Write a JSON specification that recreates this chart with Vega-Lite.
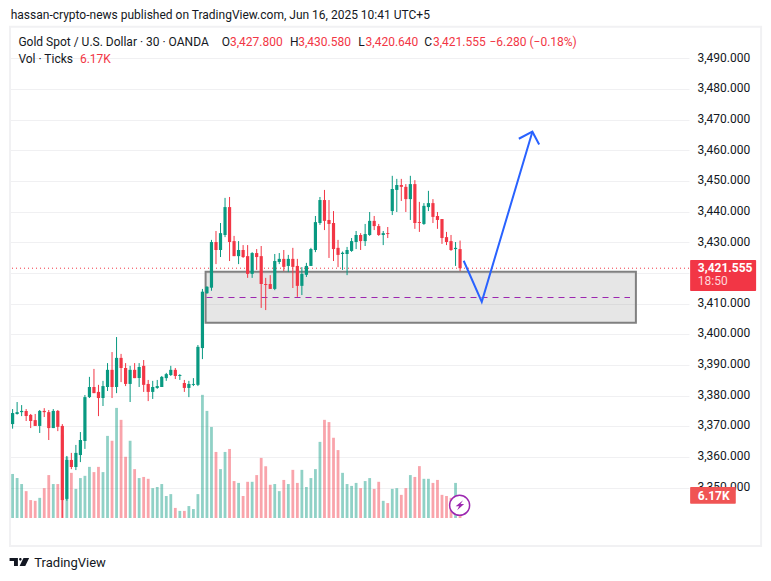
{
  "$schema": "https://vega.github.io/schema/vega-lite/v6.json",
  "width": 679,
  "height": 490,
  "autosize": {"type": "none"},
  "padding": {"left": 10, "top": 28, "right": 82, "bottom": 63},
  "background": "#ffffff",
  "config": {"view": {"stroke": null}, "text": {"font": "Roboto"}},
  "datasets": {
    "bars": [
      {"i":0,"o":3370.7,"h":3375.6,"l":3369.2,"c":3374.3,"v":11.8},
      {"i":1,"o":3374.0,"h":3377.9,"l":3373.8,"c":3374.6,"v":10.7},
      {"i":2,"o":3374.6,"h":3376.9,"l":3373.3,"c":3375.0,"v":9.1},
      {"i":3,"o":3375.0,"h":3375.6,"l":3371.7,"c":3373.3,"v":7.2},
      {"i":4,"o":3373.7,"h":3374.0,"l":3369.4,"c":3371.7,"v":4.8},
      {"i":5,"o":3372.0,"h":3374.0,"l":3370.1,"c":3370.1,"v":4.6},
      {"i":6,"o":3370.1,"h":3375.3,"l":3367.8,"c":3375.0,"v":5.4},
      {"i":7,"o":3375.0,"h":3375.9,"l":3373.0,"c":3374.6,"v":8.0},
      {"i":8,"o":3374.6,"h":3375.3,"l":3365.5,"c":3369.4,"v":11.5},
      {"i":9,"o":3369.4,"h":3375.6,"l":3369.4,"c":3375.0,"v":9.1},
      {"i":10,"o":3375.0,"h":3375.3,"l":3368.4,"c":3369.8,"v":9.1},
      {"i":11,"o":3370.1,"h":3370.7,"l":3340.1,"c":3345.9,"v":22.3},
      {"i":12,"o":3346.3,"h":3360.3,"l":3345.7,"c":3359.0,"v":16.4},
      {"i":13,"o":3359.0,"h":3361.3,"l":3356.0,"c":3356.7,"v":12.1},
      {"i":14,"o":3356.7,"h":3363.9,"l":3355.7,"c":3361.3,"v":7.8},
      {"i":15,"o":3360.6,"h":3368.1,"l":3358.3,"c":3365.5,"v":10.7},
      {"i":16,"o":3365.2,"h":3380.2,"l":3362.6,"c":3379.5,"v":11.3},
      {"i":17,"o":3379.5,"h":3386.1,"l":3379.2,"c":3382.8,"v":13.7},
      {"i":18,"o":3382.8,"h":3388.7,"l":3380.8,"c":3380.8,"v":12.3},
      {"i":19,"o":3381.2,"h":3383.5,"l":3373.3,"c":3379.2,"v":13.7},
      {"i":20,"o":3379.2,"h":3384.8,"l":3376.6,"c":3383.1,"v":12.3},
      {"i":21,"o":3382.8,"h":3390.6,"l":3381.5,"c":3388.4,"v":22.0},
      {"i":22,"o":3388.4,"h":3394.2,"l":3379.2,"c":3382.8,"v":20.7},
      {"i":23,"o":3382.8,"h":3399.1,"l":3380.8,"c":3392.3,"v":29.5},
      {"i":24,"o":3392.3,"h":3393.6,"l":3384.4,"c":3389.0,"v":26.3},
      {"i":25,"o":3389.0,"h":3390.6,"l":3383.1,"c":3383.8,"v":16.4},
      {"i":26,"o":3383.8,"h":3389.7,"l":3377.9,"c":3388.4,"v":20.7},
      {"i":27,"o":3388.4,"h":3390.6,"l":3385.7,"c":3385.7,"v":13.1},
      {"i":28,"o":3385.7,"h":3390.6,"l":3382.8,"c":3389.3,"v":10.7},
      {"i":29,"o":3389.7,"h":3391.6,"l":3381.2,"c":3383.5,"v":11.0},
      {"i":30,"o":3383.8,"h":3385.1,"l":3378.2,"c":3381.2,"v":10.5},
      {"i":31,"o":3381.2,"h":3384.8,"l":3378.9,"c":3382.8,"v":8.0},
      {"i":32,"o":3382.5,"h":3385.1,"l":3382.2,"c":3383.1,"v":8.3},
      {"i":33,"o":3382.8,"h":3386.4,"l":3382.8,"c":3386.1,"v":9.1},
      {"i":34,"o":3385.7,"h":3387.4,"l":3384.8,"c":3387.0,"v":5.9},
      {"i":35,"o":3386.7,"h":3389.7,"l":3386.4,"c":3388.4,"v":6.4},
      {"i":36,"o":3388.4,"h":3389.0,"l":3385.4,"c":3386.4,"v":2.7},
      {"i":37,"o":3386.4,"h":3387.0,"l":3385.1,"c":3386.7,"v":1.9},
      {"i":38,"o":3384.1,"h":3385.1,"l":3381.2,"c":3382.5,"v":1.9},
      {"i":39,"o":3382.5,"h":3384.8,"l":3379.5,"c":3383.8,"v":3.2},
      {"i":40,"o":3383.5,"h":3385.7,"l":3383.1,"c":3383.8,"v":2.4},
      {"i":41,"o":3383.5,"h":3396.5,"l":3383.1,"c":3395.9,"v":6.4},
      {"i":42,"o":3395.5,"h":3414.8,"l":3391.9,"c":3413.9,"v":33.0},
      {"i":43,"o":3413.4,"h":3415.7,"l":3413.2,"c":3415.5,"v":28.7},
      {"i":44,"o":3415.2,"h":3430.8,"l":3414.2,"c":3430.1,"v":24.4},
      {"i":45,"o":3430.1,"h":3433.7,"l":3422.9,"c":3427.5,"v":17.7},
      {"i":46,"o":3427.5,"h":3436.3,"l":3425.2,"c":3433.0,"v":13.1},
      {"i":47,"o":3432.4,"h":3444.5,"l":3431.7,"c":3441.5,"v":17.7},
      {"i":48,"o":3441.5,"h":3444.8,"l":3423.9,"c":3430.1,"v":18.5},
      {"i":49,"o":3430.4,"h":3432.1,"l":3425.5,"c":3425.5,"v":9.9},
      {"i":50,"o":3425.5,"h":3430.4,"l":3422.9,"c":3427.5,"v":9.4},
      {"i":51,"o":3427.5,"h":3429.1,"l":3424.9,"c":3425.2,"v":5.9},
      {"i":52,"o":3425.5,"h":3429.1,"l":3418.4,"c":3419.7,"v":9.7},
      {"i":53,"o":3419.7,"h":3426.8,"l":3418.4,"c":3426.5,"v":9.7},
      {"i":54,"o":3426.5,"h":3427.8,"l":3421.0,"c":3425.2,"v":11.5},
      {"i":55,"o":3425.5,"h":3428.8,"l":3408.6,"c":3416.4,"v":16.1},
      {"i":56,"o":3416.4,"h":3418.4,"l":3407.9,"c":3416.1,"v":13.9},
      {"i":57,"o":3416.4,"h":3419.3,"l":3414.8,"c":3414.8,"v":8.9},
      {"i":58,"o":3414.8,"h":3426.2,"l":3414.4,"c":3423.9,"v":9.1},
      {"i":59,"o":3423.6,"h":3426.5,"l":3422.9,"c":3424.6,"v":7.2},
      {"i":60,"o":3424.6,"h":3427.5,"l":3420.6,"c":3422.0,"v":10.2},
      {"i":61,"o":3422.3,"h":3425.9,"l":3420.3,"c":3424.6,"v":9.1},
      {"i":62,"o":3424.6,"h":3428.2,"l":3415.1,"c":3422.0,"v":12.9},
      {"i":63,"o":3422.3,"h":3424.6,"l":3412.2,"c":3415.8,"v":9.4},
      {"i":64,"o":3415.8,"h":3421.9,"l":3412.8,"c":3419.7,"v":12.9},
      {"i":65,"o":3419.4,"h":3423.3,"l":3418.7,"c":3422.3,"v":8.3},
      {"i":66,"o":3422.3,"h":3428.2,"l":3422.3,"c":3427.8,"v":10.7},
      {"i":67,"o":3427.5,"h":3438.6,"l":3426.8,"c":3436.6,"v":13.1},
      {"i":68,"o":3436.3,"h":3444.8,"l":3435.7,"c":3443.8,"v":20.4},
      {"i":69,"o":3443.8,"h":3447.1,"l":3434.0,"c":3437.0,"v":26.3},
      {"i":70,"o":3437.3,"h":3443.8,"l":3424.9,"c":3436.0,"v":25.7},
      {"i":71,"o":3436.3,"h":3440.2,"l":3423.9,"c":3427.8,"v":21.5},
      {"i":72,"o":3428.2,"h":3430.8,"l":3421.9,"c":3425.9,"v":18.2},
      {"i":73,"o":3426.2,"h":3427.0,"l":3421.0,"c":3426.6,"v":12.1},
      {"i":74,"o":3426.2,"h":3428.5,"l":3419.3,"c":3427.5,"v":9.1},
      {"i":75,"o":3427.2,"h":3431.4,"l":3426.9,"c":3430.4,"v":8.6},
      {"i":76,"o":3430.1,"h":3433.7,"l":3427.8,"c":3432.4,"v":9.4},
      {"i":77,"o":3432.4,"h":3433.0,"l":3427.5,"c":3430.4,"v":8.0},
      {"i":78,"o":3430.4,"h":3436.0,"l":3428.8,"c":3432.7,"v":9.9},
      {"i":79,"o":3432.4,"h":3439.9,"l":3432.1,"c":3437.0,"v":10.7},
      {"i":80,"o":3437.0,"h":3438.6,"l":3434.0,"c":3435.3,"v":7.8},
      {"i":81,"o":3435.3,"h":3436.0,"l":3432.1,"c":3432.4,"v":9.7},
      {"i":82,"o":3432.4,"h":3433.7,"l":3429.1,"c":3433.0,"v":4.6},
      {"i":83,"o":3433.0,"h":3435.0,"l":3431.4,"c":3432.7,"v":4.0},
      {"i":84,"o":3440.2,"h":3451.7,"l":3438.9,"c":3447.4,"v":7.8},
      {"i":85,"o":3447.1,"h":3450.7,"l":3439.9,"c":3448.7,"v":8.0},
      {"i":86,"o":3448.7,"h":3450.7,"l":3443.5,"c":3448.1,"v":6.2},
      {"i":87,"o":3448.1,"h":3449.0,"l":3439.9,"c":3444.1,"v":8.0},
      {"i":88,"o":3444.1,"h":3451.7,"l":3437.3,"c":3449.0,"v":11.5},
      {"i":89,"o":3449.0,"h":3450.3,"l":3434.4,"c":3436.3,"v":11.0},
      {"i":90,"o":3436.6,"h":3443.2,"l":3433.4,"c":3436.3,"v":13.9},
      {"i":91,"o":3436.0,"h":3442.8,"l":3435.7,"c":3441.9,"v":10.5},
      {"i":92,"o":3441.5,"h":3446.8,"l":3440.2,"c":3442.8,"v":10.5},
      {"i":93,"o":3442.8,"h":3444.1,"l":3436.3,"c":3438.3,"v":9.4},
      {"i":94,"o":3438.6,"h":3439.9,"l":3434.4,"c":3437.3,"v":10.2},
      {"i":95,"o":3437.6,"h":3437.6,"l":3429.5,"c":3431.4,"v":6.2},
      {"i":96,"o":3431.7,"h":3433.4,"l":3429.1,"c":3430.1,"v":5.9},
      {"i":97,"o":3430.4,"h":3432.4,"l":3427.2,"c":3427.5,"v":5.4},
      {"i":98,"o":3427.8,"h":3430.1,"l":3422.3,"c":3428.2,"v":9.4},
      {"i":99,"o":3427.8,"h":3430.58,"l":3420.64,"c":3421.555,"v":6.17}
    ],
    "arrow": [
      {"seg":"a","n":0,"i":99.8,"p":3424.0},
      {"seg":"a","n":1,"i":103.8,"p":3410.6},
      {"seg":"a","n":2,"i":115.0,"p":3466.1},
      {"seg":"b","n":0,"i":112.0,"p":3463.8},
      {"seg":"b","n":1,"i":115.0,"p":3466.1},
      {"seg":"b","n":2,"i":116.5,"p":3461.9}
    ],
    "darkText": [
      {"t":"hassan-crypto-news published on TradingView.com, Jun 16, 2025 10:41 UTC+5","i":-0.42,"p":3504.2},
      {"t":"Gold Spot / U.S. Dollar · 30 · OANDA","i":1.28,"p":3495.5},
      {"t":"O","i":46.3,"p":3495.5},
      {"t":"H","i":61.4,"p":3495.5},
      {"t":"L","i":76.5,"p":3495.5},
      {"t":"C","i":91.1,"p":3495.5},
      {"t":"Vol · Ticks","i":1.28,"p":3489.8}
    ],
    "redText": [
      {"t":"3,427.800","i":48.1,"p":3495.5},
      {"t":"3,430.580","i":63.2,"p":3495.5},
      {"t":"3,420.640","i":78.1,"p":3495.5},
      {"t":"3,421.555","i":93.0,"p":3495.5},
      {"t":"−6.280 (−0.18%)","i":105.5,"p":3495.5},
      {"t":"6.17K","i":14.9,"p":3489.8}
    ]
  },
  "resolve": {"scale": {"y": "independent"}},
  "layer": [
    {
      "data": {"name": "bars"},
      "mark": {"type": "bar", "size": 2.8, "orient": "vertical", "opacity": 0.45},
      "encoding": {
        "x": {
          "field": "i",
          "type": "quantitative",
          "scale": {"domain": [-0.575, 149.65], "nice": false, "zero": false, "padding": 0},
          "axis": {
            "title": null,
            "values": [34, 80, 126],
            "labelExpr": "datum.value == 34 ? '13' : datum.value == 80 ? '14' : '17'",
            "grid": true,
            "gridColor": "#f0f0f2",
            "domain": false,
            "ticks": false,
            "labelFont": "Roboto",
            "labelFontSize": 12,
            "labelColor": "#131722",
            "labelPadding": 8
          }
        },
        "y": {
          "field": "v",
          "type": "quantitative",
          "scale": {"domain": [0, 131.3], "nice": false},
          "axis": null
        },
        "color": {"condition": {"test": "datum.c >= datum.o", "value": "#089981"}, "value": "#f23645"}
      }
    },
    {
      "layer": [
        {
          "data": {"values": [{"i0": -0.575, "i1": 165.6, "p0": 3330.9, "p1": 3500.3}]},
          "mark": {"type": "rect", "fillOpacity": 0, "stroke": "#f1f1f3", "strokeWidth": 2},
          "encoding": {
            "x": {"field": "i0", "type": "quantitative", "scale": {"domain": [-0.575, 149.65], "nice": false, "zero": false, "padding": 0}, "axis": null},
            "x2": {"field": "i1"},
            "y": {
              "field": "p0",
              "type": "quantitative",
              "scale": {"domain": [3340.06, 3499.93], "nice": false, "zero": false},
              "axis": {
                "orient": "right",
                "title": null,
                "values": [3350, 3360, 3370, 3380, 3390, 3400, 3410, 3420, 3430, 3440, 3450, 3460, 3470, 3480, 3490],
                "tickCount": 16,
                "labelExpr": "datum.value == 3420 ? '' : format(datum.value, ',.3f')",
                "labelOverlap": false,
                "labelOffset": -1.3,
                "grid": true,
                "gridColor": "#f0f0f2",
                "domain": false,
                "ticks": false,
                "labelFont": "Roboto",
                "labelFontSize": 12,
                "labelColor": "#131722",
                "labelPadding": 8
              }
            },
            "y2": {"field": "p1"}
          }
        },
        {
          "data": {"values": [{"i0": 42.7, "i1": 137.9, "p0": 3403.8, "p1": 3420.4}]},
          "mark": {"type": "rect", "fill": "#808080", "fillOpacity": 0.2, "stroke": "#808080", "strokeWidth": 2},
          "encoding": {
            "x": {"field": "i0", "type": "quantitative", "scale": {"domain": [-0.575, 149.65], "nice": false, "zero": false, "padding": 0}, "axis": null},
            "x2": {"field": "i1"},
            "y": {"field": "p0", "type": "quantitative", "scale": {"domain": [3340.06, 3499.93], "nice": false, "zero": false}},
            "y2": {"field": "p1"}
          }
        },
        {
          "data": {"values": [{"i0": 42.9, "i1": 136.6, "p": 3412.0}]},
          "mark": {"type": "rule", "color": "#9c27b0", "strokeWidth": 1, "strokeDash": [6, 5]},
          "encoding": {
            "x": {"field": "i0", "type": "quantitative", "scale": {"domain": [-0.575, 149.65], "nice": false, "zero": false, "padding": 0}, "axis": null},
            "x2": {"field": "i1"},
            "y": {"field": "p", "type": "quantitative", "scale": {"domain": [3340.06, 3499.93], "nice": false, "zero": false}}
          }
        },
        {
          "data": {"values": [{"p": 3421.555}]},
          "mark": {"type": "rule", "color": "#f23645", "strokeWidth": 1, "strokeDash": [1, 3]},
          "encoding": {
            "y": {"field": "p", "type": "quantitative", "scale": {"domain": [3340.06, 3499.93], "nice": false, "zero": false}}
          }
        },
        {
          "data": {"name": "bars"},
          "mark": {"type": "rule", "strokeWidth": 1},
          "encoding": {
            "x": {"field": "i", "type": "quantitative", "scale": {"domain": [-0.575, 149.65], "nice": false, "zero": false, "padding": 0}, "axis": null},
            "y": {"field": "l", "type": "quantitative", "scale": {"domain": [3340.06, 3499.93], "nice": false, "zero": false}},
            "y2": {"field": "h"},
            "color": {"condition": {"test": "datum.c >= datum.o", "value": "#089981"}, "value": "#f23645"}
          }
        },
        {
          "data": {"name": "bars"},
          "mark": {"type": "bar", "size": 3.2, "orient": "vertical"},
          "encoding": {
            "x": {"field": "i", "type": "quantitative", "scale": {"domain": [-0.575, 149.65], "nice": false, "zero": false, "padding": 0}, "axis": null},
            "y": {"field": "o", "type": "quantitative", "scale": {"domain": [3340.06, 3499.93], "nice": false, "zero": false}},
            "y2": {"field": "c"},
            "color": {"condition": {"test": "datum.c >= datum.o", "value": "#089981"}, "value": "#f23645"}
          }
        },
        {
          "data": {"name": "arrow"},
          "mark": {"type": "line", "color": "#2962ff", "strokeWidth": 2},
          "encoding": {
            "x": {"field": "i", "type": "quantitative", "scale": {"domain": [-0.575, 149.65], "nice": false, "zero": false, "padding": 0}, "axis": null},
            "y": {"field": "p", "type": "quantitative", "scale": {"domain": [3340.06, 3499.93], "nice": false, "zero": false}},
            "detail": {"field": "seg"},
            "order": {"field": "n"}
          }
        },
        {
          "data": {"values": [
            {"kind": "price", "i0": 149.9, "i1": 164.5, "p0": 3414.1, "p1": 3424.2},
            {"kind": "vol", "i0": 149.9, "i1": 160.0, "p0": 3344.7, "p1": 3350.2}
          ]},
          "mark": {"type": "rect", "cornerRadius": 1},
          "encoding": {
            "x": {"field": "i0", "type": "quantitative", "scale": {"domain": [-0.575, 149.65], "nice": false, "zero": false, "padding": 0}, "axis": null},
            "x2": {"field": "i1"},
            "y": {"field": "p0", "type": "quantitative", "scale": {"domain": [3340.06, 3499.93], "nice": false, "zero": false}},
            "y2": {"field": "p1"},
            "color": {"condition": {"test": "datum.kind == 'price'", "value": "#f23645"}, "value": "#f05454"}
          }
        },
        {
          "data": {"name": "darkText"},
          "mark": {"type": "text", "align": "left", "baseline": "middle", "fontSize": 12, "color": "#131722"},
          "encoding": {
            "x": {"field": "i", "type": "quantitative", "scale": {"domain": [-0.575, 149.65], "nice": false, "zero": false, "padding": 0}, "axis": null},
            "y": {"field": "p", "type": "quantitative", "scale": {"domain": [3340.06, 3499.93], "nice": false, "zero": false}},
            "text": {"field": "t"}
          }
        },
        {
          "data": {"name": "redText"},
          "mark": {"type": "text", "align": "left", "baseline": "middle", "fontSize": 12, "color": "#f23645"},
          "encoding": {
            "x": {"field": "i", "type": "quantitative", "scale": {"domain": [-0.575, 149.65], "nice": false, "zero": false, "padding": 0}, "axis": null},
            "y": {"field": "p", "type": "quantitative", "scale": {"domain": [3340.06, 3499.93], "nice": false, "zero": false}},
            "text": {"field": "t"}
          }
        },
        {
          "data": {"values": [{"t": "3,421.555", "i": 151.6, "p": 3421.6}, {"t": "6.17K", "i": 151.6, "p": 3347.4}]},
          "mark": {"type": "text", "align": "left", "baseline": "middle", "fontSize": 12, "fontWeight": "bold", "color": "#ffffff"},
          "encoding": {
            "x": {"field": "i", "type": "quantitative", "scale": {"domain": [-0.575, 149.65], "nice": false, "zero": false, "padding": 0}, "axis": null},
            "y": {"field": "p", "type": "quantitative", "scale": {"domain": [3340.06, 3499.93], "nice": false, "zero": false}},
            "text": {"field": "t"}
          }
        },
        {
          "data": {"values": [{"t": "18:50", "i": 151.6, "p": 3417.4}]},
          "mark": {"type": "text", "align": "left", "baseline": "middle", "fontSize": 12, "color": "#ffd6da"},
          "encoding": {
            "x": {"field": "i", "type": "quantitative", "scale": {"domain": [-0.575, 149.65], "nice": false, "zero": false, "padding": 0}, "axis": null},
            "y": {"field": "p", "type": "quantitative", "scale": {"domain": [3340.06, 3499.93], "nice": false, "zero": false}},
            "text": {"field": "t"}
          }
        },
        {
          "data": {"values": [{"t": "TradingView", "i": 4.8, "p": 3325.4}]},
          "mark": {"type": "text", "align": "left", "baseline": "middle", "fontSize": 13, "color": "#131722"},
          "encoding": {
            "x": {"field": "i", "type": "quantitative", "scale": {"domain": [-0.575, 149.65], "nice": false, "zero": false, "padding": 0}, "axis": null},
            "y": {"field": "p", "type": "quantitative", "scale": {"domain": [3340.06, 3499.93], "nice": false, "zero": false}},
            "text": {"field": "t"}
          }
        },
        {
          "data": {"values": [{"i": 1.5, "p": 3325.7}]},
          "mark": {
            "type": "point",
            "filled": true,
            "opacity": 1,
            "size": 384,
            "color": "#131722",
            "shape": "M-1 -0.4H-0.15V0.4H-0.55V-0.1H-1ZM0.02 0.4L0.42 -0.4H1L0.6 0.4ZM-0.03 -0.27A0.13 0.13 0 1 0 0.23 -0.27A0.13 0.13 0 1 0 -0.03 -0.27Z"
          },
          "encoding": {
            "x": {"field": "i", "type": "quantitative", "scale": {"domain": [-0.575, 149.65], "nice": false, "zero": false, "padding": 0}, "axis": null},
            "y": {"field": "p", "type": "quantitative", "scale": {"domain": [3340.06, 3499.93], "nice": false, "zero": false}}
          }
        },
        {
          "data": {"values": [{"i": 98.9, "p": 3344.2}]},
          "mark": {"type": "point", "shape": "circle", "size": 400, "opacity": 1, "fill": "#ffffff", "fillOpacity": 1, "stroke": "#9c27b0", "strokeWidth": 1.5},
          "encoding": {
            "x": {"field": "i", "type": "quantitative", "scale": {"domain": [-0.575, 149.65], "nice": false, "zero": false, "padding": 0}, "axis": null},
            "y": {"field": "p", "type": "quantitative", "scale": {"domain": [3340.06, 3499.93], "nice": false, "zero": false}}
          }
        },
        {
          "data": {"values": [{"i": 98.9, "p": 3344.2}]},
          "mark": {
            "type": "point",
            "filled": true,
            "opacity": 1,
            "size": 100,
            "color": "#9c27b0",
            "shape": "M0.7 -1L-0.8 0.2H-0.1L-0.5 1L0.9 -0.25H0.2Z"
          },
          "encoding": {
            "x": {"field": "i", "type": "quantitative", "scale": {"domain": [-0.575, 149.65], "nice": false, "zero": false, "padding": 0}, "axis": null},
            "y": {"field": "p", "type": "quantitative", "scale": {"domain": [3340.06, 3499.93], "nice": false, "zero": false}}
          }
        }
      ]
    }
  ]
}
